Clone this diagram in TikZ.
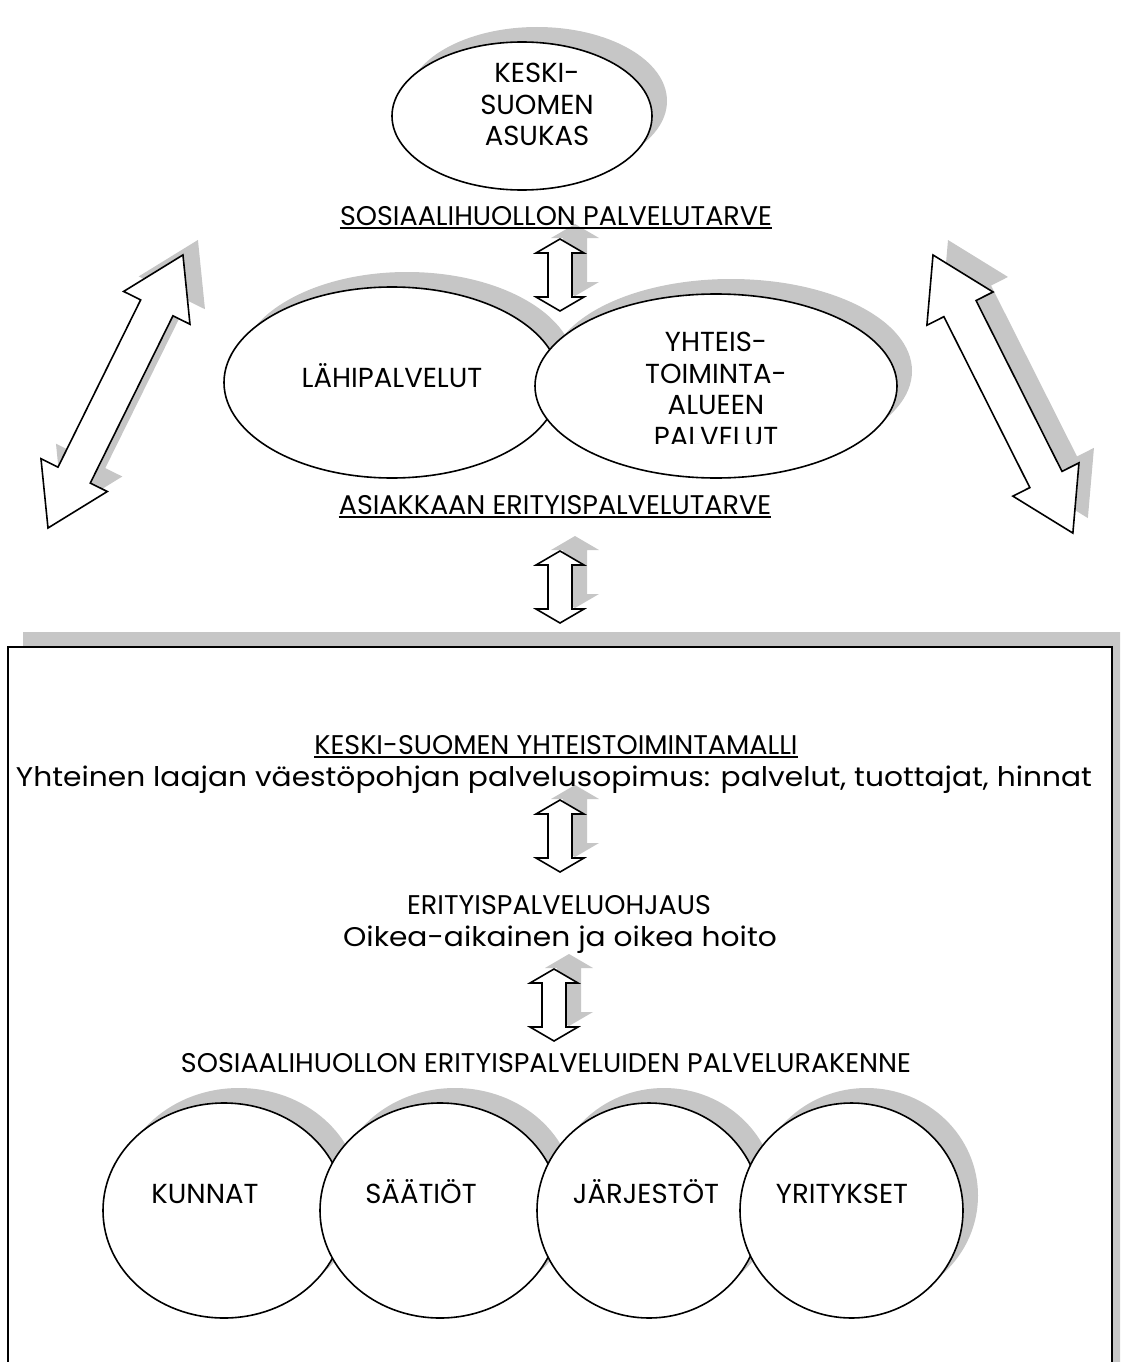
\documentclass[tikz,border=0pt]{standalone}
\usepackage{fontspec}
\setmainfont{Poppins}
\usetikzlibrary{shapes.geometric,calc}
\definecolor{shadowgray}{HTML}{C6C6C6}
\newcommand{\headfont}{\fontsize{27}{30}\selectfont}
\newcommand{\wideheadfont}{\fontsize{27}{30}\selectfont\addfontfeature{FakeStretch=1.1}}
\newcommand{\labelfont}{\fontsize{27.5}{31.5}\selectfont}
\tikzset{
  blob/.style={draw=black,fill=white,line width=1.6pt},
  shadowfill/.style={fill=shadowgray,draw=none},
  oval/.style={blob,ellipse,inner sep=0pt,outer sep=0pt},
  headtxt/.style={font=\headfont,inner sep=0pt,anchor=base},
  lowtxt/.style={headtxt,font=\wideheadfont},
  labeltxt/.style={font=\labelfont,inner sep=0pt,align=center},
  uline/.style={line width=1.6pt},
  pics/dblarr/.style args={#1/#2/#3/#4}{code={
    \path[pic actions] (0,0) -- (#2,#3) -- (#2,#4) -- ({#1-#2},#4) -- ({#1-#2},#3) -- (#1,0)
      -- ({#1-#2},-#3) -- ({#1-#2},-#4) -- (#2,-#4) -- (#2,-#3) -- cycle;
  }},
}

\begin{document}
\begin{tikzpicture}[x=1pt,y=-1pt]
  \useasboundingbox (0,0) rectangle (1120,1362);
  \clip (0,0) rectangle (1120,1362);

  % frame with its shadow
  \fill[shadowfill] (23,632) rectangle (1127,1420);
  \draw[blob] (8,647) rectangle (1112,1420);

  % shadows, all shifted up-right
  \begin{scope}[shift={(15,-15)}]
    \fill[shadowfill] (522,116) ellipse [x radius=130,y radius=74];
    \fill[shadowfill] (392,382.5) ellipse [x radius=168,y radius=95.5];
    \fill[shadowfill] (716,386) ellipse [x radius=181,y radius=92];
    \foreach \x/\y in {560/239,560/551,560/800,554/969}
      \pic[shadowfill,rotate=-90] at (\x,\y) {dblarr=72/14/24/12};
    \pic[shadowfill,rotate=63.7] at (48,528) {dblarr=304.6/59/37/18};
    \pic[shadowfill,rotate=-63.3] at (933,255) {dblarr=311.3/60/37/18};
    \foreach \cx/\r in {224/121,440/120,649/112,851.5/111.5}
      \fill[shadowfill] (\cx,1210.5) ellipse [x radius=\r,y radius=107.5];
  \end{scope}

  % shapes
  \node[oval,minimum width=260,minimum height=148] (asukas) at (522,116) {};
  \node[oval,minimum width=336,minimum height=191] (lahi) at (392,382.5) {};
  \node[oval,minimum width=362,minimum height=184] (yhteis) at (716,386) {};
  \foreach \x/\y in {560/239,560/551,560/800,554/969}
    \pic[blob,rotate=-90] at (\x,\y) {dblarr=72/14/24/12};
  \pic[blob,rotate=63.7] at (48,528) {dblarr=304.6/59/37/18};
  \pic[blob,rotate=-63.3] at (933,255) {dblarr=311.3/60/37/18};
  \foreach \n/\cx/\r in {kunnat/224/121,saatiot/440/120,jarjestot/649/112,yritykset/851.5/111.5}
    \node[oval,minimum width=2*\r,minimum height=215] (\n) at (\cx,1210.5) {};

  % texts
  \node[labeltxt] (asukastxt) at (537,104.5) {KESKI-\\SUOMEN\\ASUKAS};
  \node[labeltxt,anchor=base] (lahitxt) at (392,387) {LÄHIPALVELUT};
  \begin{scope}
    \clip (530,300) rectangle (900,443);
    \node[labeltxt] (yhteistxt) at (716,389.5) {YHTEIS-\\TOIMINTA-\\ALUEEN\\PALVELUT};
  \end{scope}
  \foreach \n/\tx/\t in {kunnat/205/KUNNAT,saatiot/421/SÄÄTIÖT,jarjestot/646/JÄRJESTÖT,yritykset/842/YRITYKSET}
    \node[labeltxt,anchor=base] (\n txt) at (\tx,1203) {\t};

  \node[headtxt] (need) at (556,225) {SOSIAALIHUOLLON PALVELUTARVE};
  \node[headtxt] (special) at (555,514) {ASIAKKAAN ERITYISPALVELUTARVE};
  \node[headtxt] (model) at (556,754) {KESKI-SUOMEN YHTEISTOIMINTAMALLI};
  \node[lowtxt] (contract) at (554,786) {Yhteinen laajan väestöpohjan palvelusopimus: palvelut, tuottajat, hinnat};
  \node[headtxt] (guidance) at (559,914) {ERITYISPALVELUOHJAUS};
  \node[lowtxt] (care) at (560,946) {Oikea-aikainen ja oikea hoito};
  \node[headtxt] (structure) at (546,1072) {SOSIAALIHUOLLON ERITYISPALVELUIDEN PALVELURAKENNE};
  \foreach \t in {need,special,model}
    \draw[uline] ([yshift=-3pt]\t.base west) -- ([yshift=-3pt]\t.base east);
\end{tikzpicture}
\end{document}
